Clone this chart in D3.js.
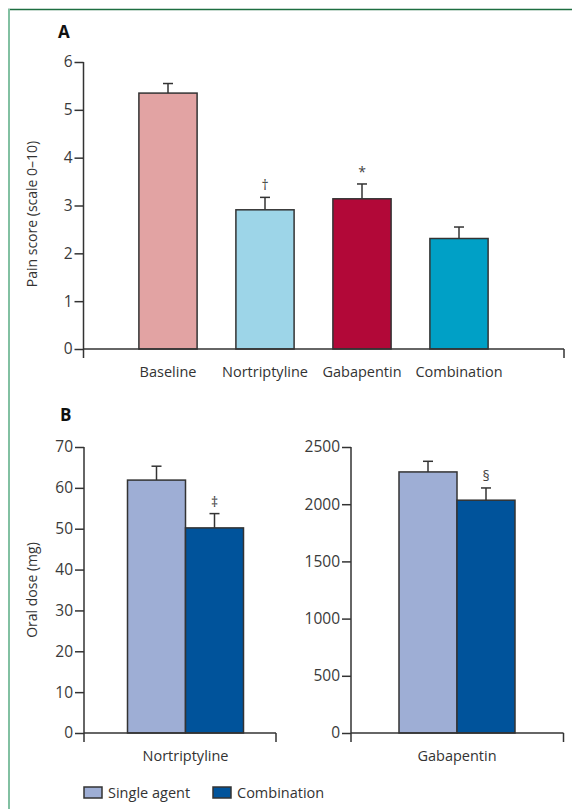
<!DOCTYPE html>
<html>
<head>
<meta charset="utf-8">
<script src="https://cdn.jsdelivr.net/npm/d3@7"></script>
<style>
  body { margin: 0; background: #fff; }
  svg text { font-family: "Open Sans", sans-serif; fill: #333; }
</style>
</head>
<body>
<script>
// panel A data
const painCategories = ['Baseline', 'Nortriptyline', 'Gabapentin', 'Combination']
const painMeans = [5.35, 2.91, 3.14, 2.31]
const painErrors = [0.2, 0.26, 0.31, 0.24]
const painMarks = ['', '†', '*', '']
const painColors = ['#e2a3a3', '#9dd5e8', '#b20838', '#00a0c6']
const painTicks = [0, 1, 2, 3, 4, 5, 6]

// panel B data
const doseSeries = ['Single agent', 'Combination']
const doseColors = ['#9eaed5', '#00539b']
const nortMeans = [61.9, 50.2]
const nortErrors = [3.4, 3.5]
const nortMarks = ['', '‡']
const nortTicks = [0, 10, 20, 30, 40, 50, 60, 70]
const gabaMeans = [2282, 2035]
const gabaErrors = [93, 107]
const gabaMarks = ['', '§']
const gabaTicks = [0, 500, 1000, 1500, 2000, 2500]

const WIDTH = 572
const HEIGHT = 809
const STROKE = '#333'

const svg = d3.select('body').append('svg')
  .attr('width', WIDTH)
  .attr('height', HEIGHT)

// cadre vert
svg.append('line').attr('x1', 8).attr('x2', WIDTH).attr('y1', 9.5).attr('y2', 9.5)
  .attr('stroke', '#1d6e40').attr('stroke-width', 1.5)
svg.append('line').attr('x1', 9).attr('x2', 9).attr('y1', 9).attr('y2', HEIGHT)
  .attr('stroke', '#82c0a2').attr('stroke-width', 2)

// dessine un axe vertical avec ses graduations
function drawYAxis(g, y, ticks, x0, bottom) {
  const axis = g.append('g').attr('transform', `translate(${x0},0)`)
    .call(d3.axisLeft(y).tickValues(ticks).tickSize(9).tickPadding(2).tickFormat(d3.format('d')))
  axis.select('.domain').remove()
  axis.selectAll('.tick line').attr('stroke', STROKE).attr('stroke-width', 1.5)
  axis.selectAll('.tick text').attr('font-size', 15.5).style('fill', '#3a3a3a')
  g.append('line').attr('x1', x0).attr('x2', x0)
    .attr('y1', y(ticks[ticks.length - 1])).attr('y2', bottom)
    .attr('stroke', STROKE).attr('stroke-width', 1.5)
}

function drawXLine(g, x0, x1, y0, bottom) {
  g.append('line').attr('x1', x0).attr('x2', x1).attr('y1', y0).attr('y2', y0)
    .attr('stroke', STROKE).attr('stroke-width', 1.5)
  g.append('line').attr('x1', x1).attr('x2', x1).attr('y1', y0).attr('y2', bottom)
    .attr('stroke', STROKE).attr('stroke-width', 1.5)
}

// barres avec barre d'erreur et marque
function drawBars(g, rows, y) {
  const bars = g.selectAll('g.bar').data(rows).enter().append('g').attr('class', 'bar')
  bars.append('line')
    .attr('x1', d => d.x + d.w / 2).attr('x2', d => d.x + d.w / 2)
    .attr('y1', d => y(d.v)).attr('y2', d => y(d.v + d.e))
    .attr('stroke', STROKE).attr('stroke-width', 1.5)
  bars.append('line')
    .attr('x1', d => d.x + d.w / 2 - 5).attr('x2', d => d.x + d.w / 2 + 5)
    .attr('y1', d => y(d.v + d.e)).attr('y2', d => y(d.v + d.e))
    .attr('stroke', STROKE).attr('stroke-width', 1.5)
  bars.append('rect')
    .attr('x', d => d.x).attr('width', d => d.w)
    .attr('y', d => y(d.v)).attr('height', d => y(0) - y(d.v))
    .attr('fill', d => d.c).attr('stroke', STROKE).attr('stroke-width', 1.5)
  bars.append('text')
    .attr('x', d => d.x + d.w / 2).attr('y', d => y(d.v + d.e) - 7)
    .attr('text-anchor', 'middle').attr('font-size', 14)
    .style('fill', '#444')
    .text(d => d.m)
}

// ---------- panneau A ----------
const gA = svg.append('g')
const yA = d3.scaleLinear().domain([0, 6]).range([349, 62])
const xA = d3.scaleBand().domain(painCategories).range([119.5, 507.5]).paddingInner(0.4).paddingOuter(0.2)

gA.append('text').attr('x', 58).attr('y', 38).attr('font-size', 17).attr('font-weight', 'bold')
  .style('fill', '#111').text('A')

drawBars(gA, painCategories.map((c, i) => ({
  x: xA(c), w: xA.bandwidth(), v: painMeans[i], e: painErrors[i], m: painMarks[i], c: painColors[i]
})), yA)
drawYAxis(gA, yA, painTicks, 83.5, 358)
drawXLine(gA, 83.5, 564, 349, 358)

gA.selectAll('text.cat').data(painCategories).enter().append('text')
  .attr('class', 'cat')
  .attr('x', d => xA(d) + xA.bandwidth() / 2).attr('y', 377)
  .attr('text-anchor', 'middle').attr('font-size', 14.5)
  .text(d => d)

gA.append('text')
  .attr('transform', `translate(37,214) rotate(-90)`)
  .attr('text-anchor', 'middle').attr('font-size', 14)
  .text('Pain score (scale 0–10)')

// ---------- panneau B ----------
const gB = svg.append('g')
gB.append('text').attr('x', 60).attr('y', 421).attr('font-size', 17).attr('font-weight', 'bold')
  .style('fill', '#111').text('B')

function drawDose(name, means, errors, marks, ticks, x0, x1, center) {
  const g = gB.append('g')
  const y = d3.scaleLinear().domain([0, ticks[ticks.length - 1]]).range([733, 447])
  const x = d3.scaleBand().domain(doseSeries).range([center - 58, center + 58]).padding(0)
  drawBars(g, doseSeries.map((s, i) => ({
    x: x(s), w: x.bandwidth(), v: means[i], e: errors[i], m: marks[i], c: doseColors[i]
  })), y)
  drawYAxis(g, y, ticks, x0, 742)
  drawXLine(g, x0, x1, 733, 742)
  g.append('text').attr('x', center).attr('y', 761)
    .attr('text-anchor', 'middle').attr('font-size', 14.5).text(name)
}

drawDose('Nortriptyline', nortMeans, nortErrors, nortMarks, nortTicks, 84, 276, 185.5)
drawDose('Gabapentin', gabaMeans, gabaErrors, gabaMarks, gabaTicks, 351, 563.5, 457)

gB.append('text')
  .attr('transform', `translate(37,590) rotate(-90)`)
  .attr('text-anchor', 'middle').attr('font-size', 14)
  .text('Oral dose (mg)')

// légende
const legendX = [84, 213]
const legend = gB.selectAll('g.leg').data(doseSeries).enter().append('g').attr('class', 'leg')
  .attr('transform', (d, i) => `translate(${legendX[i]},787)`)
legend.append('rect').attr('width', 18).attr('height', 11)
  .attr('fill', (d, i) => doseColors[i]).attr('stroke', STROKE).attr('stroke-width', 1.5)
legend.append('text').attr('x', 24).attr('y', 10.5).attr('font-size', 14.5).text(d => d)
</script>
</body>
</html>
